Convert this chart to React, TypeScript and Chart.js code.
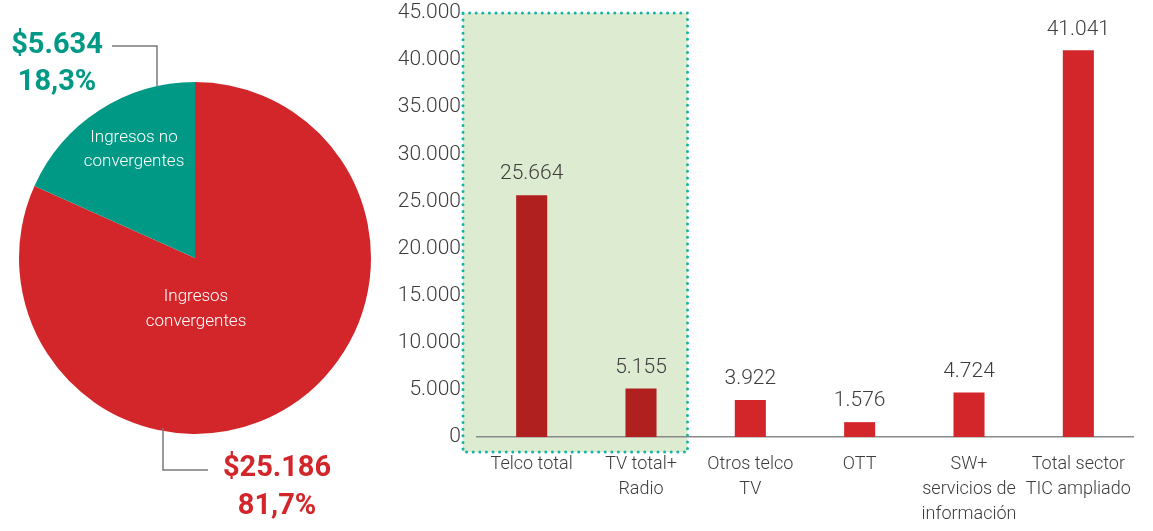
import React, { useEffect, useRef } from "react";
import { Chart, registerables } from "chart.js";

Chart.register(...registerables);

const pieCategories = [["Ingresos", "convergentes"], ["Ingresos no", "convergentes"]];
const pieValues = [25186, 5634];
const pieColors = ["#D2262A", "#009985"];

const barCategories = [
  ["Telco total"],
  ["TV total+", "Radio"],
  ["Otros telco", "TV"],
  ["OTT"],
  ["SW+", "servicios de", "información"],
  ["Total sector", "TIC ampliado"],
];
const barValues = [25664, 5155, 3922, 1576, 4724, 41041];
const barColors = ["#B0201F", "#B0201F", "#D2262A", "#D2262A", "#D2262A", "#D2262A"];
const yTicksMax = 45000;
const yTickStep = 5000;

const FONT = "Roboto";
const TEXT = "#3c3c3c";

const fmt = (n: number) => String(n).replace(/\B(?=(\d{3})+(?!\d))/g, ".");
const pct = (v: number, total: number) => (v / total * 100).toFixed(1).replace(".", ",") + "%";

export default function App() {
  const pieRef = useRef<HTMLCanvasElement>(null);
  const barRef = useRef<HTMLCanvasElement>(null);

  useEffect(() => {
    const total = pieValues.reduce((a, b) => a + b, 0);

    const pieLabelsPlugin = {
      id: "pieLabels",
      afterDatasetsDraw(chart: any) {
        const ctx = chart.ctx;
        const arc = chart.getDatasetMeta(0).data[0];
        const cx = arc.x, cy = arc.y, R = arc.outerRadius;
        ctx.save();
        ctx.fillStyle = "#ffffff";
        ctx.font = `300 17px ${FONT}`;
        ctx.textAlign = "center";
        ctx.textBaseline = "middle";
        const l0 = pieCategories[0];
        ctx.fillText(l0[0], cx + 1, cy + 39);
        ctx.fillText(l0[1], cx + 1, cy + 64);
        const l1 = pieCategories[1];
        ctx.fillText(l1[0], cx - 61, cy - 120);
        ctx.fillText(l1[1], cx - 61, cy - 96);

        ctx.strokeStyle = "#7a7a7a";
        ctx.lineWidth = 1.5;
        ctx.beginPath();
        ctx.moveTo(cx - 83, cy - 212);
        ctx.lineTo(cx - 38, cy - 212);
        ctx.lineTo(cx - 38, cy - R + 4);
        ctx.stroke();
        ctx.beginPath();
        ctx.moveTo(cx - 32, cy + R - 6);
        ctx.lineTo(cx - 32, cy + 212);
        ctx.lineTo(cx + 13, cy + 212);
        ctx.stroke();

        ctx.font = `bold 29px ${FONT}`;
        ctx.fillStyle = pieColors[1];
        ctx.fillText("$" + fmt(pieValues[1]), cx - 138, cy - 212);
        ctx.fillText(pct(pieValues[1], total), cx - 138, cy - 175);
        ctx.fillStyle = pieColors[0];
        ctx.fillText("$" + fmt(pieValues[0]), cx + 82, cy + 211);
        ctx.fillText(pct(pieValues[0], total), cx + 82, cy + 249);
        ctx.restore();
      },
    };

    const pie = new Chart(pieRef.current!, {
      type: "pie",
      data: {
        labels: pieCategories.map((l) => l.join(" ")),
        datasets: [{ data: pieValues, backgroundColor: pieColors, borderWidth: 0 }],
      },
      options: {
        responsive: false,
        animation: false,
        layout: { padding: { left: 19, right: 29, top: 82, bottom: 97 } },
        plugins: { legend: { display: false }, tooltip: { enabled: false } },
      },
      plugins: [pieLabelsPlugin],
    });

    const boxGeom = (chart: any) => {
      const ca = chart.chartArea;
      const xs = chart.scales.x;
      return {
        left: ca.left - 14,
        right: xs.getPixelForValue(1) + 46.5,
        top: ca.top,
        bottom: ca.bottom + 15,
      };
    };

    const boxPlugin = {
      id: "box",
      beforeDraw(chart: any) {
        const ctx = chart.ctx;
        const b = boxGeom(chart);
        ctx.save();
        ctx.fillStyle = "#DDEBD0";
        ctx.fillRect(b.left, b.top, b.right - b.left, b.bottom - b.top);
        ctx.restore();
      },
      afterDraw(chart: any) {
        const ctx = chart.ctx;
        const b = boxGeom(chart);
        ctx.save();
        ctx.strokeStyle = "#14B3A5";
        ctx.lineWidth = 3;
        ctx.lineCap = "round";
        ctx.setLineDash([0, 6.6]);
        ctx.strokeRect(b.left, b.top, b.right - b.left, b.bottom - b.top);
        ctx.restore();
      },
    };

    const valueLabels = {
      id: "valueLabels",
      afterDatasetsDraw(chart: any) {
        const ctx = chart.ctx;
        const meta = chart.getDatasetMeta(0);
        ctx.save();
        ctx.fillStyle = TEXT;
        ctx.font = `300 21px ${FONT}`;
        ctx.textAlign = "center";
        ctx.textBaseline = "middle";
        meta.data.forEach((el: any, i: number) => {
          ctx.fillText(fmt(barValues[i]), el.x, el.y - 21);
        });
        ctx.restore();
      },
    };

    const bar = new Chart(barRef.current!, {
      type: "bar",
      data: {
        labels: barCategories,
        datasets: [
          {
            data: barValues,
            backgroundColor: barColors,
            barPercentage: 0.284,
            categoryPercentage: 1,
          },
        ],
      },
      options: {
        responsive: false,
        animation: false,
        layout: { padding: { top: 13, right: 20, left: 0, bottom: 0 } },
        plugins: { legend: { display: false }, tooltip: { enabled: false } },
        scales: {
          x: {
            offset: true,
            grid: { display: false, drawTicks: false },
            border: { display: true, color: "#8a8a8a", width: 1.5 },
            ticks: {
              color: TEXT,
              font: { family: FONT, size: 18, weight: 300, lineHeight: 1.39 },
              padding: 15,
              maxRotation: 0,
              autoSkip: false,
            },
            afterFit(scale: any) {
              scale.height = 94;
              scale.paddingLeft = 0;
              scale.paddingRight = 0;
            },
          },
          y: {
            min: 0,
            max: yTicksMax,
            grid: { display: false, drawTicks: false },
            border: { display: false },
            ticks: {
              stepSize: yTickStep,
              color: TEXT,
              font: { family: FONT, size: 21, weight: 300 },
              padding: 16,
              callback: (v: any) => fmt(Number(v)),
            },
            afterFit(scale: any) {
              scale.width = 87;
              scale.paddingTop = 0;
              scale.paddingBottom = 0;
            },
          },
        },
      },
      plugins: [boxPlugin, valueLabels],
    });

    return () => {
      pie.destroy();
      bar.destroy();
    };
  }, []);

  return (
    <div style={{ position: "absolute", left: 0, top: 0, width: 1153, height: 531, background: "#fff" }}>
      <canvas ref={pieRef} width={400} height={531} style={{ position: "absolute", left: 0, top: 0 }} />
      <canvas ref={barRef} width={763} height={531} style={{ position: "absolute", left: 390, top: 0 }} />
    </div>
  );
}
